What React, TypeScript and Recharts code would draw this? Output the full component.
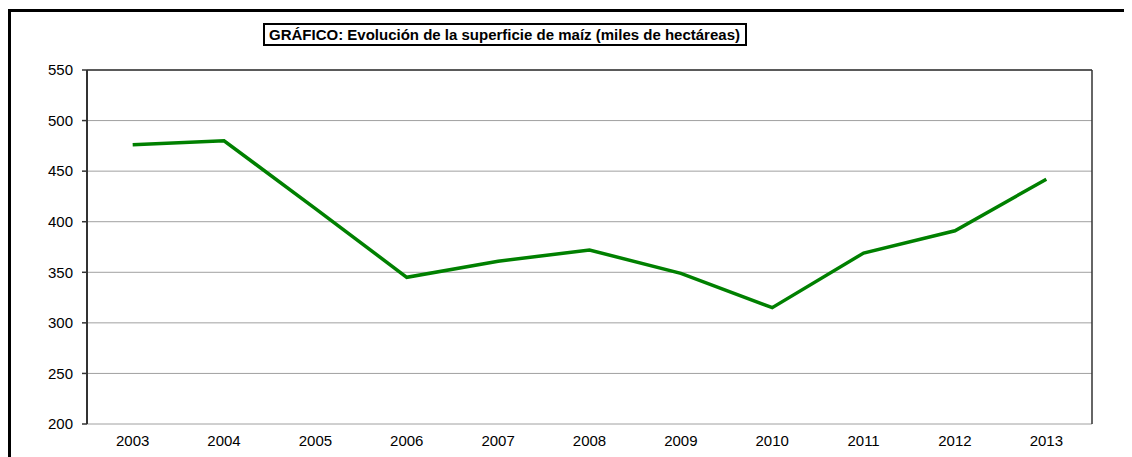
import React from "react";
import { LineChart, Line, XAxis, YAxis, CartesianGrid, ReferenceLine } from "recharts";

const years = ["2003", "2004", "2005", "2006", "2007", "2008", "2009", "2010", "2011", "2012", "2013"];
const surface = [476, 480, 413, 345, 361, 372, 349, 315, 369, 391, 442];
const yTicks = [200, 250, 300, 350, 400, 450, 500, 550];
const title = "GRÁFICO: Evolución de la superficie de maíz (miles de hectáreas)";

const data = years.map((year, i) => ({ pos: i + 0.5, year, value: surface[i] }));
const centerTicks = data.map((d) => d.pos);
const boundaryTicks = years.map((_, i) => i).concat([years.length]);

const FONT = "'Liberation Sans', Arial, sans-serif";

export default function App() {
  return (
    <div style={{ position: "relative", width: 1124, height: 449, overflow: "hidden", fontFamily: FONT }}>
      <div
        style={{
          position: "absolute",
          left: 0,
          top: 1,
          width: 1200,
          height: 600,
          borderTop: "3px solid #000",
          borderLeft: "3px solid #000",
          boxSizing: "border-box",
        }}
      />
      <div
        style={{
          position: "absolute",
          left: 255,
          top: 15,
          width: 484,
          height: 23,
          border: "2px solid #000",
          boxSizing: "border-box",
          background: "#fff",
          fontWeight: "bold",
          fontSize: 15,
          lineHeight: "19px",
          paddingLeft: 4,
          whiteSpace: "nowrap",
          color: "#000",
          zIndex: 2,
        }}
      >
        {title}
      </div>
      <div style={{ position: "absolute", left: 0, top: 0 }}>
        <LineChart width={1124} height={449} data={data} margin={{ top: 62, right: 40, bottom: 3, left: 0 }}>
          <CartesianGrid horizontal vertical={false} stroke="#a0a0a0" strokeWidth={1} />
          <XAxis
            xAxisId="b"
            type="number"
            dataKey="pos"
            domain={[0, years.length]}
            ticks={boundaryTicks}
            tick={false}
            tickSize={5}
            height={0}
            axisLine={{ stroke: "#333", strokeWidth: 2 }}
            tickLine={{ stroke: "#333", strokeWidth: 1.5 }}
          />
          <XAxis
            xAxisId="l"
            type="number"
            dataKey="pos"
            domain={[0, years.length]}
            ticks={centerTicks}
            interval={0}
            tickFormatter={(v: number) => years[Math.floor(v)]}
            tickLine={false}
            axisLine={false}
            tickSize={5}
            tickMargin={6}
            height={30}
            tick={{ fill: "#000", fontSize: 15, fontFamily: FONT }}
          />
          <YAxis
            type="number"
            domain={[200, 550]}
            ticks={yTicks}
            interval={0}
            width={79}
            tickSize={5}
            tickMargin={9}
            axisLine={{ stroke: "#333", strokeWidth: 2 }}
            tickLine={{ stroke: "#333", strokeWidth: 1.5 }}
            tick={{ fill: "#000", fontSize: 15, fontFamily: FONT }}
          />
          <ReferenceLine y={550} xAxisId="b" stroke="#333" strokeWidth={1.5} />
          <ReferenceLine x={years.length} xAxisId="b" stroke="#333" strokeWidth={1.5} />
          <Line
            xAxisId="b"
            type="linear"
            dataKey="value"
            stroke="#008000"
            strokeWidth={3.5}
            dot={false}
            activeDot={false}
            isAnimationActive={false}
          />
        </LineChart>
      </div>
    </div>
  );
}
